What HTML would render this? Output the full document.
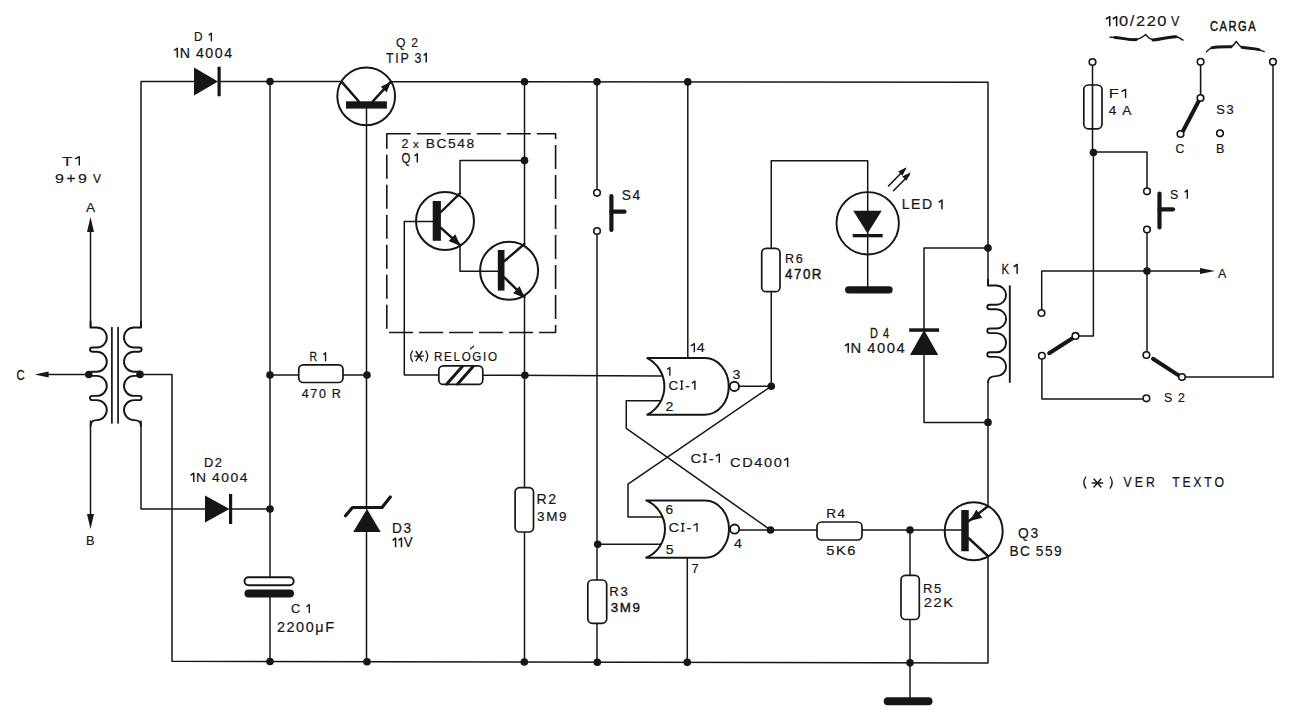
<!DOCTYPE html><html><head><meta charset="utf-8"><style>html,body{margin:0;padding:0;background:#fff;overflow:hidden}svg{display:block}</style></head><body><svg width="1299" height="720" viewBox="0 0 1299 720">
<rect width="1299" height="720" fill="#fff"/>
<g stroke="#161616" fill="none" stroke-linecap="round" stroke-linejoin="round">
<polyline points="141,327 141,81.4 194,81.45" fill="none" stroke-width="1.5"/>
<line x1="219" y1="81.47" x2="341.5" y2="81.59" stroke-width="1.5"/>
<polyline points="390.7,81.64 988,82.2 988,285.7" fill="none" stroke-width="1.5"/>
<line x1="988" y1="382" x2="988" y2="506" stroke-width="1.5"/>
<polyline points="988,556 988,663.0 172,661.3 172,374.4 140,374.4" fill="none" stroke-width="1.5"/>
<polyline points="141,421 141,509 205,509" fill="none" stroke-width="1.5"/>
<line x1="230" y1="509" x2="270" y2="509" stroke-width="1.5"/>
<line x1="270" y1="81.52" x2="270" y2="577" stroke-width="1.5"/>
<line x1="270" y1="597" x2="270" y2="661.51" stroke-width="1.5"/>
<line x1="270" y1="375" x2="298.75" y2="375" stroke-width="1.5"/>
<line x1="343" y1="375" x2="367" y2="375" stroke-width="1.5"/>
<line x1="366.5" y1="108.6" x2="366.5" y2="509" stroke-width="1.5"/>
<line x1="366.5" y1="532" x2="366.5" y2="661.71" stroke-width="1.5"/>
<line x1="524.5" y1="81.76" x2="524.5" y2="244" stroke-width="1.5"/>
<line x1="524.5" y1="297" x2="524.5" y2="487.6" stroke-width="1.5"/>
<line x1="524.5" y1="532" x2="524.5" y2="662.03" stroke-width="1.5"/>
<polyline points="524.5,160.4 460,160.4 460,193.4" fill="none" stroke-width="1.5"/>
<polyline points="460,245 460,271.3 497.8,271.3" fill="none" stroke-width="1.5"/>
<polyline points="432.7,221.5 404.3,221.5 404.3,375 438.8,375" fill="none" stroke-width="1.5"/>
<line x1="482.8" y1="375.2" x2="662" y2="375.9" stroke-width="1.5"/>
<line x1="597" y1="81.83" x2="597" y2="189.5" stroke-width="1.5"/>
<line x1="597" y1="234.5" x2="597" y2="580" stroke-width="1.5"/>
<line x1="597" y1="623.3" x2="597" y2="662.19" stroke-width="1.5"/>
<line x1="597.7" y1="544.2" x2="662" y2="544.2" stroke-width="1.5"/>
<line x1="687.8" y1="81.92" x2="687.8" y2="358" stroke-width="1.5"/>
<line x1="687.3" y1="557.7" x2="687.3" y2="662.37" stroke-width="1.5"/>
<polyline points="661.25,400.8 626.25,400.8 626.25,428.3 770.5,530" fill="none" stroke-width="1.5"/>
<polyline points="662,517 628,517 628,484.2 771.25,386.25" fill="none" stroke-width="1.5"/>
<line x1="739.4" y1="386.25" x2="771.25" y2="386.25" stroke-width="1.5"/>
<line x1="739.8" y1="530" x2="817" y2="530" stroke-width="1.5"/>
<line x1="862" y1="530" x2="961.25" y2="530" stroke-width="1.5"/>
<polyline points="771.25,386.25 771.25,291.7" fill="none" stroke-width="1.5"/>
<polyline points="771.25,248.3 771.25,160.7 867.7,160.7 867.7,290" fill="none" stroke-width="1.5"/>
<polyline points="988,248 924,248 924,422.4 988,422.4" fill="none" stroke-width="1.5"/>
<line x1="910" y1="530" x2="910" y2="575" stroke-width="1.5"/>
<line x1="910" y1="619.5" x2="910" y2="701" stroke-width="1.5"/>
<line x1="90.5" y1="224" x2="90.5" y2="327.5" stroke-width="1.5"/>
<polygon points="90.5,217 94.0,232.0 87.0,232.0" fill="#161616" stroke="none"/>
<line x1="90.5" y1="421" x2="90.5" y2="520" stroke-width="1.5"/>
<polygon points="90.5,529 87.0,514.0 94.0,514.0" fill="#161616" stroke="none"/>
<line x1="45" y1="374.5" x2="88.8" y2="374.5" stroke-width="1.5"/>
<polygon points="34.6,374.5 48.6,371.5 48.6,377.5" fill="#161616" stroke="none"/>
<path d="M90.6,321.5 L90.6,327.5 Q90.6,327.5 96.8,327.5 A10.0,10.0 0 0 1 96.8,347.5 L92.1,347.5 A2.0999999999999996,2.0999999999999996 0 0 0 92.1,351.7 L96.8,351.7 A10.0,10.0 0 0 1 96.8,371.7 L92.1,371.7 A2.0999999999999996,2.0999999999999996 0 0 0 92.1,375.9 L96.8,375.9 A10.0,10.0 0 0 1 96.8,395.9 L92.1,395.9 A2.0999999999999996,2.0999999999999996 0 0 0 92.1,400.09999999999997 L96.8,400.09999999999997 A10.0,10.0 0 0 1 96.8,420.1 Q90.6,420.1 90.6,426.1" fill="none" stroke-width="1.9"/>
<path d="M141.0,321.5 L141.0,327.5 Q141.0,327.5 134.0,327.5 A10.0,10.0 0 0 0 134.0,347.5 L139.5,347.5 A2.0999999999999996,2.0999999999999996 0 0 1 139.5,351.7 L134.0,351.7 A10.0,10.0 0 0 0 134.0,371.7 L139.5,371.7 A2.0999999999999996,2.0999999999999996 0 0 1 139.5,375.9 L134.0,375.9 A10.0,10.0 0 0 0 134.0,395.9 L139.5,395.9 A2.0999999999999996,2.0999999999999996 0 0 1 139.5,400.09999999999997 L134.0,400.09999999999997 A10.0,10.0 0 0 0 134.0,420.1 Q141.0,420.1 141.0,426.1" fill="none" stroke-width="1.9"/>
<line x1="111.9" y1="327.5" x2="111.9" y2="423" stroke-width="1.7"/>
<line x1="118.1" y1="327.5" x2="118.1" y2="423" stroke-width="1.7"/>
<path d="M988.1,279.5 L988.1,285.5 Q988.1,285.5 996.5,285.5 A9.6,9.6 0 0 1 996.5,304.70000000000005 L989.6,304.70000000000005 A2.3000000000000007,2.3000000000000007 0 0 0 989.6,309.30000000000007 L996.5,309.30000000000007 A9.6,9.6 0 0 1 996.5,328.50000000000006 L989.6,328.50000000000006 A2.3000000000000007,2.3000000000000007 0 0 0 989.6,333.1000000000001 L996.5,333.1000000000001 A9.6,9.6 0 0 1 996.5,352.30000000000007 L989.6,352.30000000000007 A2.3000000000000007,2.3000000000000007 0 0 0 989.6,356.9000000000001 L996.5,356.9000000000001 A9.6,9.6 0 0 1 996.5,376.1 Q988.1,376.1 988.1,382.1" fill="none" stroke-width="1.9"/>
<line x1="1009.8" y1="286.3" x2="1009.8" y2="382" stroke-width="1.9"/>
<polygon points="194,67.5 194,95.5 218,81.5" fill="#161616" stroke="none"/>
<rect x="217.5" y="66.75" width="3.2" height="29.5" fill="#161616" stroke="none"/>
<polygon points="205,495.5 205,522.5 229.5,509" fill="#161616" stroke="none"/>
<rect x="229.0" y="494.0" width="3.2" height="30" fill="#161616" stroke="none"/>
<polygon points="910,355 938.2,355 924.1,330" fill="#161616" stroke="none"/>
<rect x="909.2" y="328.3" width="29.9" height="3.5" fill="#161616" stroke="none"/>
<polygon points="353.2,532 380.7,532 367,509" fill="#161616" stroke="none"/>
<polyline points="345.5,515.8 352.5,507.5 382,507.5 390.3,497" fill="none" stroke-width="3.2"/>
<circle cx="867.7" cy="223.3" r="31.2" stroke-width="1.9"/>
<polygon points="853.3,210.7 881.7,210.7 867.5,233.5" fill="#161616" stroke="none"/>
<rect x="852.7" y="234" width="30" height="3.3" fill="#161616" stroke="none"/>
<line x1="888.5" y1="186" x2="905" y2="169" stroke-width="1.6"/>
<polygon points="906.7,167.3 902.4573593128807,175.78528137423856 898.2147186257614,171.5426406871193" fill="#161616" stroke="none"/>
<line x1="893.5" y1="190.7" x2="909" y2="175" stroke-width="1.6"/>
<polygon points="910.7,172.3 906.4573593128807,180.78528137423856 902.2147186257614,176.5426406871193" fill="#161616" stroke="none"/>
<rect x="845" y="286.2" width="47.7" height="7.2" rx="3.6" fill="#161616" stroke="none"/>
<rect x="883.7" y="697.2" width="48.8" height="8" rx="4" fill="#161616" stroke="none"/>
<rect x="244.5" y="577.3" width="49.19999999999999" height="8.0" rx="4" fill="#fff" stroke-width="1.9"/>
<rect x="244.5" y="589.5" width="49.5" height="8" rx="4" fill="#161616" stroke="none"/>
<rect x="298.75" y="364.8" width="44.25" height="17.69999999999999" rx="4.5" fill="#fff" stroke-width="1.7"/>
<rect x="438.8" y="365.9" width="44.0" height="18.5" rx="4.5" fill="#fff" stroke-width="1.7"/>
<line x1="446.8" y1="384.0" x2="462.3" y2="366.4" stroke-width="3.0"/>
<line x1="457.6" y1="384.0" x2="473.1" y2="366.4" stroke-width="3.0"/>
<rect x="817" y="522" width="45" height="18" rx="4.5" fill="#fff" stroke-width="1.7"/>
<rect x="515.1" y="487.6" width="18.399999999999977" height="44.39999999999998" rx="4.5" fill="#fff" stroke-width="1.7"/>
<rect x="587.8" y="580" width="18.90000000000009" height="43.299999999999955" rx="4.5" fill="#fff" stroke-width="1.7"/>
<rect x="901" y="575.3" width="18.299999999999955" height="44.200000000000045" rx="4.5" fill="#fff" stroke-width="1.7"/>
<rect x="761.7" y="248.3" width="18.299999999999955" height="43.39999999999998" rx="4.5" fill="#fff" stroke-width="1.7"/>
<line x1="1092.5" y1="65.5" x2="1092.5" y2="152" stroke-width="1.5"/>
<circle cx="1092.5" cy="62" r="3.3" fill="#fff" stroke-width="1.6"/>
<rect x="1083.8" y="85" width="18.200000000000045" height="43.80000000000001" rx="4.5" fill="#fff" stroke-width="1.7"/>
<line x1="1092.5" y1="85" x2="1092.5" y2="128.8" stroke-width="1.6"/>
<circle cx="445" cy="221" r="29" stroke-width="2"/>
<rect x="432.7" y="201" width="8.199999999999989" height="39.80000000000001" fill="#161616" stroke="none"/>
<line x1="440.9" y1="212" x2="460" y2="193.4" stroke-width="2.4"/>
<line x1="440.9" y1="227.8" x2="460" y2="245" stroke-width="2.4"/>
<polygon points="460.5,246 448.6290031102062,240.93621358640533 455.3108815990722,234.183251283828" fill="#161616" stroke="none"/>
<circle cx="509.1" cy="270.7" r="29" stroke-width="2"/>
<rect x="497.8" y="250" width="6.699999999999989" height="40.60000000000002" fill="#161616" stroke="none"/>
<line x1="504.5" y1="261" x2="524.4" y2="244" stroke-width="2.4"/>
<line x1="504.5" y1="277.6" x2="524.4" y2="297" stroke-width="2.4"/>
<polygon points="525,298 513.0284468527723,293.17875376659714 519.5715667409618,286.29125914745026" fill="#161616" stroke="none"/>
<circle cx="973.7" cy="531.2" r="29" stroke-width="2"/>
<rect x="961.25" y="510" width="7.5" height="41.25" fill="#161616" stroke="none"/>
<line x1="968.75" y1="521" x2="988" y2="506.2" stroke-width="2.4"/>
<line x1="968.75" y1="538.25" x2="988" y2="556.2" stroke-width="2.4"/>
<polygon points="969.8,521 976.3060483557899,509.7451639375723 982.3727815492919,517.694676398023" fill="#161616" stroke="none"/>
<circle cx="366.2" cy="96.3" r="28.9" stroke-width="2"/>
<rect x="346" y="101.3" width="40.9" height="7.3" fill="#161616" stroke="none"/>
<line x1="341.7" y1="81.9" x2="358.7" y2="101.3" stroke-width="2.5"/>
<line x1="372.8" y1="101.3" x2="390.7" y2="81.9" stroke-width="2.5"/>
<polygon points="391.2,81.4 386.6504774718163,92.18433330185734 380.78597667136694,86.74304389937852" fill="#161616" stroke="none"/>
<rect x="386.8" y="133.8" width="168.8" height="198.7" stroke-width="1.6" stroke-dasharray="24,6" stroke-linecap="butt"/>
<path d="M647.3,358.1 L705,358.1 A23.75,28.32499999999999 0 0 1 705,414.75 L647.3,414.75 A32.01,32.01 0 0 0 647.3,358.1 Z" fill="#fff" stroke-width="2.0"/>
<circle cx="734.4" cy="386.425" r="4.6" fill="#fff" stroke-width="1.9"/>
<path d="M646.2,500.4 L705,500.4 A24.0,28.650000000000034 0 0 1 705,557.7 L646.2,557.7 A31.23,31.23 0 0 0 646.2,500.4 Z" fill="#fff" stroke-width="2.0"/>
<circle cx="734.6" cy="529.05" r="4.6" fill="#fff" stroke-width="1.9"/>
<circle cx="597" cy="192.8" r="3.3" fill="#fff" stroke-width="1.6"/>
<circle cx="597" cy="231" r="3.3" fill="#fff" stroke-width="1.6"/>
<line x1="611.4" y1="196" x2="611.4" y2="230" stroke-width="4.2"/>
<line x1="611.4" y1="211.7" x2="624.5" y2="211.7" stroke-width="4.2"/>
<circle cx="1147" cy="191.3" r="3.3" fill="#fff" stroke-width="1.6"/>
<circle cx="1147" cy="229.5" r="3.3" fill="#fff" stroke-width="1.6"/>
<line x1="1159.5" y1="193.5" x2="1159.5" y2="227.5" stroke-width="4.2"/>
<line x1="1159.5" y1="209.3" x2="1173" y2="209.3" stroke-width="4.2"/>
<line x1="1200.6" y1="65" x2="1200.6" y2="95" stroke-width="1.6"/>
<line x1="1198.5" y1="101.5" x2="1183" y2="131" stroke-width="4.0"/>
<circle cx="1200.6" cy="61.8" r="3.3" fill="#fff" stroke-width="1.6"/>
<circle cx="1200.5" cy="98" r="3.3" fill="#fff" stroke-width="1.6"/>
<circle cx="1180.5" cy="134" r="3.3" fill="#fff" stroke-width="1.6"/>
<circle cx="1220" cy="133.3" r="3.3" fill="#fff" stroke-width="1.6"/>
<line x1="1273" y1="65" x2="1273" y2="377" stroke-width="1.5"/>
<polyline points="1185.3,377.1 1273,377.1" fill="none" stroke-width="1.5"/>
<circle cx="1273" cy="61.8" r="3.3" fill="#fff" stroke-width="1.6"/>
<polyline points="1092.5,152 1147,152 1147,188" fill="none" stroke-width="1.5"/>
<line x1="1147" y1="232.8" x2="1147" y2="351.5" stroke-width="1.5"/>
<polyline points="1041.7,310 1041.7,271.1 1200,271.1" fill="none" stroke-width="1.5"/>
<polygon points="1215,271.1 1200.0,274.1 1200.0,268.1" fill="#161616" stroke="none"/>
<polyline points="1093.4,152 1093.4,335.9 1078.8,335.9" fill="none" stroke-width="1.5"/>
<line x1="1049.1" y1="353.2" x2="1072.5" y2="338.2" stroke-width="4.0"/>
<polyline points="1041.9,359 1041.9,399 1143,399" fill="none" stroke-width="1.5"/>
<line x1="1153" y1="358.8" x2="1179" y2="375.6" stroke-width="4.0"/>
<circle cx="1041.5" cy="313" r="3.3" fill="#fff" stroke-width="1.6"/>
<circle cx="1075.5" cy="335.9" r="3.3" fill="#fff" stroke-width="1.6"/>
<circle cx="1041.9" cy="355.75" r="3.3" fill="#fff" stroke-width="1.6"/>
<circle cx="1146.4" cy="355" r="3.3" fill="#fff" stroke-width="1.6"/>
<circle cx="1182" cy="377.1" r="3.3" fill="#fff" stroke-width="1.6"/>
<circle cx="1146.4" cy="398.3" r="3.3" fill="#fff" stroke-width="1.6"/>
<circle cx="1093.4" cy="152.5" r="3.8" fill="#161616" stroke="none"/>
<circle cx="1147" cy="271.1" r="3.8" fill="#161616" stroke="none"/>
<path d="M1110.2,37.2 C1120,37 1126,40.5 1134,39.8 C1140,39.2 1143,37 1145.6,34.5 C1148,37.5 1150,40 1157,39.8 C1165,39.5 1168,36.4 1174,36.5 C1178,36.6 1181,38.5 1183,40.1" fill="none" stroke-width="1.4"/>
<path d="M1115,37.4 C1121,37.6 1127,40 1136,39.6" fill="none" stroke-width="3.0"/>
<path d="M1153,39.9 C1162,39.6 1167,36.6 1176,36.7" fill="none" stroke-width="3.0"/>
<path d="M1206.5,51.9 C1209,48.5 1212,47 1218,46.8 C1225,46.6 1229,47.5 1231,46.8 C1233.5,45.8 1235,43.5 1236.4,41.4 C1238,44 1239.5,46.8 1243,47.5 C1250,48.5 1256,48 1264.1,51.6" fill="none" stroke-width="1.4"/>
<path d="M1212,47.8 C1218,46.6 1226,46.9 1231,46.8" fill="none" stroke-width="3.0"/>
<path d="M1242,47.3 C1248,48.4 1253,48.1 1259,49.6" fill="none" stroke-width="3.0"/>
<circle cx="270" cy="81.52" r="3.8" fill="#161616" stroke="none"/>
<circle cx="524.5" cy="81.76" r="3.8" fill="#161616" stroke="none"/>
<circle cx="597" cy="81.83" r="3.8" fill="#161616" stroke="none"/>
<circle cx="687.8" cy="81.92" r="3.8" fill="#161616" stroke="none"/>
<circle cx="524.5" cy="160.4" r="3.8" fill="#161616" stroke="none"/>
<circle cx="270" cy="375" r="3.8" fill="#161616" stroke="none"/>
<circle cx="367" cy="375" r="3.8" fill="#161616" stroke="none"/>
<circle cx="524.9" cy="375.2" r="3.8" fill="#161616" stroke="none"/>
<circle cx="270" cy="509" r="3.8" fill="#161616" stroke="none"/>
<circle cx="88.8" cy="374.5" r="3.8" fill="#161616" stroke="none"/>
<circle cx="140" cy="374.4" r="3.8" fill="#161616" stroke="none"/>
<circle cx="270" cy="661.51" r="3.8" fill="#161616" stroke="none"/>
<circle cx="367" cy="661.71" r="3.8" fill="#161616" stroke="none"/>
<circle cx="524.3" cy="662.03" r="3.8" fill="#161616" stroke="none"/>
<circle cx="597.3" cy="662.19" r="3.8" fill="#161616" stroke="none"/>
<circle cx="687.3" cy="662.37" r="3.8" fill="#161616" stroke="none"/>
<circle cx="597.7" cy="544.2" r="3.8" fill="#161616" stroke="none"/>
<circle cx="771.25" cy="386.25" r="3.8" fill="#161616" stroke="none"/>
<circle cx="770.5" cy="530" r="3.8" fill="#161616" stroke="none"/>
<circle cx="910" cy="530" r="3.8" fill="#161616" stroke="none"/>
<circle cx="910" cy="662.84" r="3.8" fill="#161616" stroke="none"/>
<circle cx="988" cy="248" r="3.8" fill="#161616" stroke="none"/>
<circle cx="988" cy="422.4" r="3.8" fill="#161616" stroke="none"/>
</g>
<g stroke="#161616" fill="none" stroke-linecap="round">
<path d="M412.4,351 Q409.0,356.25 412.4,361.5" fill="none" stroke-width="1.3"/>
<line x1="414.6" y1="356.1" x2="423.5" y2="356.1" stroke-width="1.4"/>
<line x1="416.113" y1="351.5" x2="421.987" y2="360.7" stroke-width="1.4"/>
<line x1="421.987" y1="351.5" x2="416.113" y2="360.7" stroke-width="1.4"/>
<path d="M425.9,351 Q429.40000000000003,356.25 425.9,361.5" fill="none" stroke-width="1.3"/>
<line x1="470.6" y1="348.8" x2="473.6" y2="346.3" stroke-width="1.3"/>
<path d="M1085.8,477 Q1081.9,482.6 1085.8,488.2" fill="none" stroke-width="1.3"/>
<line x1="1092.2" y1="483.0" x2="1102.7" y2="483.0" stroke-width="1.4"/>
<line x1="1093.9850000000001" y1="479" x2="1100.915" y2="487" stroke-width="1.4"/>
<line x1="1100.915" y1="479" x2="1093.9850000000001" y2="487" stroke-width="1.4"/>
<path d="M1110.2,477 Q1114.1,482.6 1110.2,488.2" fill="none" stroke-width="1.3"/>
</g>
<g font-family="Liberation Sans, sans-serif" fill="#161616" stroke="none" xml:space="preserve">
<text transform="translate(194.00,41.25) scale(0.944,1)" font-size="12.50" stroke="#161616" stroke-width="0.212">D</text>
<path d="M208.72,35.12 L211.34,33.16 L211.34,41.25" fill="none" stroke="#161616" stroke-width="1.31" stroke-linejoin="round"/>
<path d="M174.10,50.50 L177.32,48.25 L177.32,57.50" fill="none" stroke="#161616" stroke-width="1.50" stroke-linejoin="round"/>
<text transform="translate(179.67,57.50) scale(0.993,1)" font-size="14.29" stroke="#161616" stroke-width="0.201">N</text>
<text transform="translate(195.90,57.50) scale(0.993,1)" font-size="14.29" stroke="#161616" stroke-width="0.201">4</text>
<text transform="translate(205.33,57.50) scale(0.993,1)" font-size="14.29" stroke="#161616" stroke-width="0.201">0</text>
<text transform="translate(214.75,57.50) scale(0.993,1)" font-size="14.29" stroke="#161616" stroke-width="0.201">0</text>
<text transform="translate(224.18,57.50) scale(0.993,1)" font-size="14.29" stroke="#161616" stroke-width="0.201">4</text>
<text transform="translate(62.00,165.50) scale(1.250,1)" font-size="13.57" stroke="#161616" stroke-width="0.160">T</text>
<path d="M75.11,158.85 L79.29,156.71 L79.29,165.50" fill="none" stroke="#161616" stroke-width="1.43" stroke-linejoin="round"/>
<text transform="translate(55.00,183.00) scale(1.250,1)" font-size="12.86" stroke="#161616" stroke-width="0.160">9</text>
<path d="M67.14,178.50 H74.86 M71.00,174.64 V182.36" fill="none" stroke="#161616" stroke-width="1.29"/>
<text transform="translate(78.09,183.00) scale(1.250,1)" font-size="12.86" stroke="#161616" stroke-width="0.160">9</text>
<text transform="translate(93.00,183.00) scale(0.941,1)" font-size="12.86" stroke="#161616" stroke-width="0.213">V</text>
<text transform="translate(86.00,212.00) scale(1.059,1)" font-size="12.86" stroke="#161616" stroke-width="0.189">A</text>
<text transform="translate(16.60,379.60) scale(0.800,1)" font-size="14.29" stroke="#161616" stroke-width="0.250">C</text>
<text transform="translate(86.00,544.50) scale(0.944,1)" font-size="13.57" stroke="#161616" stroke-width="0.212">B</text>
<text transform="translate(204.00,467.00) scale(0.951,1)" font-size="13.57" stroke="#161616" stroke-width="0.210">D</text>
<text transform="translate(214.87,467.00) scale(0.951,1)" font-size="13.57" stroke="#161616" stroke-width="0.210">2</text>
<path d="M190.57,475.35 L193.76,473.21 L193.76,482.00" fill="none" stroke="#161616" stroke-width="1.43" stroke-linejoin="round"/>
<text transform="translate(196.06,482.00) scale(1.024,1)" font-size="13.57" stroke="#161616" stroke-width="0.195">N</text>
<text transform="translate(212.01,482.00) scale(1.024,1)" font-size="13.57" stroke="#161616" stroke-width="0.195">4</text>
<text transform="translate(221.28,482.00) scale(1.024,1)" font-size="13.57" stroke="#161616" stroke-width="0.195">0</text>
<text transform="translate(230.55,482.00) scale(1.024,1)" font-size="13.57" stroke="#161616" stroke-width="0.195">0</text>
<text transform="translate(239.82,482.00) scale(1.024,1)" font-size="13.57" stroke="#161616" stroke-width="0.195">4</text>
<text transform="translate(291.00,613.00) scale(0.988,1)" font-size="12.86" stroke="#161616" stroke-width="0.202">C</text>
<path d="M306.45,606.70 L309.32,604.67 L309.32,613.00" fill="none" stroke="#161616" stroke-width="1.35" stroke-linejoin="round"/>
<text transform="translate(276.90,631.50) scale(1.031,1)" font-size="14.00" stroke="#161616" stroke-width="0.194">2</text>
<text transform="translate(286.49,631.50) scale(1.031,1)" font-size="14.00" stroke="#161616" stroke-width="0.194">2</text>
<text transform="translate(296.08,631.50) scale(1.031,1)" font-size="14.00" stroke="#161616" stroke-width="0.194">0</text>
<text transform="translate(305.67,631.50) scale(1.031,1)" font-size="14.00" stroke="#161616" stroke-width="0.194">0</text>
<text transform="translate(315.26,631.50) scale(1.031,1)" font-size="14.00" stroke="#161616" stroke-width="0.194">μ</text>
<text transform="translate(325.24,631.50) scale(1.031,1)" font-size="14.00" stroke="#161616" stroke-width="0.194">F</text>
<text transform="translate(396.00,47.00) scale(0.894,1)" font-size="13.57" stroke="#161616" stroke-width="0.224">Q</text>
<text transform="translate(411.30,47.00) scale(0.894,1)" font-size="13.57" stroke="#161616" stroke-width="0.224">2</text>
<text transform="translate(386.00,62.50) scale(0.868,1)" font-size="14.29" stroke="#161616" stroke-width="0.230">T</text>
<text transform="translate(395.27,62.50) scale(0.868,1)" font-size="14.29" stroke="#161616" stroke-width="0.230">I</text>
<text transform="translate(400.42,62.50) scale(0.868,1)" font-size="14.29" stroke="#161616" stroke-width="0.230">P</text>
<text transform="translate(414.50,62.50) scale(0.868,1)" font-size="14.29" stroke="#161616" stroke-width="0.230">3</text>
<path d="M423.61,55.50 L426.25,53.25 L426.25,62.50" fill="none" stroke="#161616" stroke-width="1.50" stroke-linejoin="round"/>
<text transform="translate(401.50,148.00) scale(0.968,1)" font-size="12.86" stroke="#161616" stroke-width="0.207">2</text>
<text transform="translate(413.00,148.00) scale(1.105,1)" font-size="10.50" stroke="#161616" stroke-width="0.181">x</text>
<text transform="translate(425.70,148.00) scale(1.076,1)" font-size="12.86" stroke="#161616" stroke-width="0.186">B</text>
<text transform="translate(436.45,148.00) scale(1.076,1)" font-size="12.86" stroke="#161616" stroke-width="0.186">C</text>
<text transform="translate(448.00,148.00) scale(1.076,1)" font-size="12.86" stroke="#161616" stroke-width="0.186">5</text>
<text transform="translate(457.27,148.00) scale(1.076,1)" font-size="12.86" stroke="#161616" stroke-width="0.186">4</text>
<text transform="translate(466.53,148.00) scale(1.076,1)" font-size="12.86" stroke="#161616" stroke-width="0.186">8</text>
<text transform="translate(401.50,163.00) scale(0.800,1)" font-size="14.29" stroke="#161616" stroke-width="0.250">Q</text>
<path d="M414.57,155.85 L417.29,153.71 L417.29,162.50" fill="none" stroke="#161616" stroke-width="1.43" stroke-linejoin="round"/>
<text transform="translate(309.60,361.25) scale(0.798,1)" font-size="13.07" stroke="#161616" stroke-width="0.251">R</text>
<path d="M323.44,354.85 L325.56,352.79 L325.56,361.25" fill="none" stroke="#161616" stroke-width="1.37" stroke-linejoin="round"/>
<text transform="translate(301.70,398.30) scale(0.967,1)" font-size="13.00" stroke="#161616" stroke-width="0.207">4</text>
<text transform="translate(310.33,398.30) scale(0.967,1)" font-size="13.00" stroke="#161616" stroke-width="0.207">7</text>
<text transform="translate(318.97,398.30) scale(0.967,1)" font-size="13.00" stroke="#161616" stroke-width="0.207">0</text>
<text transform="translate(331.73,398.30) scale(0.967,1)" font-size="13.00" stroke="#161616" stroke-width="0.207">R</text>
<text transform="translate(434.00,361.00) scale(0.870,1)" font-size="13.43" stroke="#161616" stroke-width="0.230">R</text>
<text transform="translate(444.08,361.00) scale(0.870,1)" font-size="13.43" stroke="#161616" stroke-width="0.230">E</text>
<text transform="translate(453.51,361.00) scale(0.870,1)" font-size="13.43" stroke="#161616" stroke-width="0.230">L</text>
<text transform="translate(461.64,361.00) scale(0.870,1)" font-size="13.43" stroke="#161616" stroke-width="0.230">O</text>
<text transform="translate(472.37,361.00) scale(0.870,1)" font-size="13.43" stroke="#161616" stroke-width="0.230">G</text>
<text transform="translate(483.10,361.00) scale(0.870,1)" font-size="13.43" stroke="#161616" stroke-width="0.230">I</text>
<text transform="translate(487.97,361.00) scale(0.870,1)" font-size="13.43" stroke="#161616" stroke-width="0.230">O</text>
<text transform="translate(392.00,532.50) scale(0.932,1)" font-size="14.71" stroke="#161616" stroke-width="0.214">D</text>
<text transform="translate(403.51,532.50) scale(0.932,1)" font-size="14.71" stroke="#161616" stroke-width="0.214">3</text>
<path d="M392.59,540.34 L395.58,538.13 L395.58,547.20" fill="none" stroke="#161616" stroke-width="1.47" stroke-linejoin="round"/>
<path d="M398.50,540.34 L401.49,538.13 L401.49,547.20" fill="none" stroke="#161616" stroke-width="1.47" stroke-linejoin="round"/>
<text transform="translate(403.83,547.20) scale(0.957,1)" font-size="14.00" stroke="#161616" stroke-width="0.209">V</text>
<text transform="translate(536.50,504.40) scale(1.023,1)" font-size="13.86" stroke="#161616" stroke-width="0.196">R</text>
<text transform="translate(548.20,504.40) scale(1.023,1)" font-size="13.86" stroke="#161616" stroke-width="0.196">2</text>
<text transform="translate(537.00,520.80) scale(1.025,1)" font-size="13.14" stroke="#161616" stroke-width="0.195">3</text>
<text transform="translate(546.16,520.80) scale(1.025,1)" font-size="13.14" stroke="#161616" stroke-width="0.195">M</text>
<text transform="translate(559.04,520.80) scale(1.025,1)" font-size="13.14" stroke="#161616" stroke-width="0.195">9</text>
<text transform="translate(609.30,596.00) scale(1.032,1)" font-size="12.71" stroke="#161616" stroke-width="0.194">R</text>
<text transform="translate(620.45,596.00) scale(1.032,1)" font-size="12.71" stroke="#161616" stroke-width="0.194">3</text>
<text transform="translate(610.70,611.60) scale(0.994,1)" font-size="13.43" stroke="#161616" stroke-width="0.402">3</text>
<text transform="translate(619.76,611.60) scale(0.994,1)" font-size="13.43" stroke="#161616" stroke-width="0.402">M</text>
<text transform="translate(632.54,611.60) scale(0.994,1)" font-size="13.43" stroke="#161616" stroke-width="0.402">9</text>
<text transform="translate(621.70,199.70) scale(0.997,1)" font-size="13.86" stroke="#161616" stroke-width="0.201">S</text>
<text transform="translate(632.40,199.70) scale(0.997,1)" font-size="13.86" stroke="#161616" stroke-width="0.201">4</text>
<text transform="translate(785.00,263.30) scale(0.939,1)" font-size="13.43" stroke="#161616" stroke-width="0.213">R</text>
<text transform="translate(795.76,263.30) scale(0.939,1)" font-size="13.43" stroke="#161616" stroke-width="0.213">6</text>
<text transform="translate(785.00,278.60) scale(0.933,1)" font-size="14.29" stroke="#161616" stroke-width="0.429">4</text>
<text transform="translate(793.95,278.60) scale(0.933,1)" font-size="14.29" stroke="#161616" stroke-width="0.429">7</text>
<text transform="translate(802.89,278.60) scale(0.933,1)" font-size="14.29" stroke="#161616" stroke-width="0.429">0</text>
<text transform="translate(811.84,278.60) scale(0.933,1)" font-size="14.29" stroke="#161616" stroke-width="0.429">R</text>
<text transform="translate(901.70,209.30) scale(0.985,1)" font-size="14.29" stroke="#161616" stroke-width="0.203">L</text>
<text transform="translate(911.07,209.30) scale(0.985,1)" font-size="14.29" stroke="#161616" stroke-width="0.203">E</text>
<text transform="translate(922.04,209.30) scale(0.985,1)" font-size="14.29" stroke="#161616" stroke-width="0.203">D</text>
<path d="M938.77,202.30 L941.95,200.05 L941.95,209.30" fill="none" stroke="#161616" stroke-width="1.50" stroke-linejoin="round"/>
<text transform="translate(1001.50,273.75) scale(0.800,1)" font-size="14.29" stroke="#161616" stroke-width="0.250">K</text>
<path d="M1013.70,266.75 L1017.15,264.50 L1017.15,273.75" fill="none" stroke="#161616" stroke-width="1.50" stroke-linejoin="round"/>
<text transform="translate(870.00,337.60) scale(0.750,1)" font-size="14.57" stroke="#161616" stroke-width="0.267">D</text>
<text transform="translate(883.11,337.60) scale(0.750,1)" font-size="14.57" stroke="#161616" stroke-width="0.267">4</text>
<path d="M844.79,345.94 L848.22,343.74 L848.22,352.80" fill="none" stroke="#161616" stroke-width="1.47" stroke-linejoin="round"/>
<text transform="translate(850.53,352.80) scale(1.054,1)" font-size="14.00" stroke="#161616" stroke-width="0.190">N</text>
<text transform="translate(867.30,352.80) scale(1.054,1)" font-size="14.00" stroke="#161616" stroke-width="0.190">4</text>
<text transform="translate(877.04,352.80) scale(1.054,1)" font-size="14.00" stroke="#161616" stroke-width="0.190">0</text>
<text transform="translate(886.79,352.80) scale(1.054,1)" font-size="14.00" stroke="#161616" stroke-width="0.190">0</text>
<text transform="translate(896.53,352.80) scale(1.054,1)" font-size="14.00" stroke="#161616" stroke-width="0.190">4</text>
<path d="M690.96,345.79 L694.33,343.70 L694.33,352.30" fill="none" stroke="#161616" stroke-width="1.40" stroke-linejoin="round"/>
<text transform="translate(696.63,352.30) scale(1.081,1)" font-size="13.29" stroke="#161616" stroke-width="0.185">4</text>
<path d="M667.03,369.57 L669.83,367.57 L669.83,375.80" fill="none" stroke="#161616" stroke-width="1.34" stroke-linejoin="round"/>
<text transform="translate(668.50,389.80) scale(0.990,1)" font-size="13.43" stroke="#161616" stroke-width="0.202">C</text>
<path d="M680.16,381.07 H683.26 M680.16,389.13 H683.26 M681.71,381.07 V389.13" fill="none" stroke="#161616" stroke-width="1.34"/>
<text transform="translate(685.26,389.80) scale(0.990,1)" font-size="13.43" stroke="#161616" stroke-width="0.202">-</text>
<path d="M691.88,383.22 L694.89,381.10 L694.89,389.80" fill="none" stroke="#161616" stroke-width="1.41" stroke-linejoin="round"/>
<text transform="translate(665.40,411.25) scale(1.109,1)" font-size="12.79" stroke="#161616" stroke-width="0.180">2</text>
<text transform="translate(732.50,378.75) scale(1.129,1)" font-size="12.50" stroke="#161616" stroke-width="0.177">3</text>
<text transform="translate(690.40,462.70) scale(1.101,1)" font-size="13.43" stroke="#161616" stroke-width="0.182">C</text>
<path d="M703.14,453.97 H706.68 M703.14,462.03 H706.68 M704.91,453.97 V462.03" fill="none" stroke="#161616" stroke-width="1.34"/>
<text transform="translate(708.68,462.70) scale(1.101,1)" font-size="13.43" stroke="#161616" stroke-width="0.182">-</text>
<path d="M715.80,456.12 L719.29,454.00 L719.29,462.70" fill="none" stroke="#161616" stroke-width="1.41" stroke-linejoin="round"/>
<text transform="translate(730.00,466.90) scale(1.086,1)" font-size="13.43" stroke="#161616" stroke-width="0.184">C</text>
<text transform="translate(742.19,466.90) scale(1.086,1)" font-size="13.43" stroke="#161616" stroke-width="0.184">D</text>
<text transform="translate(754.37,466.90) scale(1.086,1)" font-size="13.43" stroke="#161616" stroke-width="0.184">4</text>
<text transform="translate(764.12,466.90) scale(1.086,1)" font-size="13.43" stroke="#161616" stroke-width="0.184">0</text>
<text transform="translate(773.86,466.90) scale(1.086,1)" font-size="13.43" stroke="#161616" stroke-width="0.184">0</text>
<path d="M784.17,460.32 L787.59,458.20 L787.59,466.90" fill="none" stroke="#161616" stroke-width="1.41" stroke-linejoin="round"/>
<text transform="translate(665.40,514.00) scale(1.147,1)" font-size="12.00" stroke="#161616" stroke-width="0.174">6</text>
<text transform="translate(668.50,531.70) scale(1.169,1)" font-size="12.57" stroke="#161616" stroke-width="0.171">C</text>
<path d="M681.00,523.53 H684.57 M681.00,531.07 H684.57 M682.78,523.53 V531.07" fill="none" stroke="#161616" stroke-width="1.26"/>
<text transform="translate(686.54,531.70) scale(1.169,1)" font-size="12.57" stroke="#161616" stroke-width="0.171">-</text>
<path d="M693.50,525.54 L697.04,523.56 L697.04,531.70" fill="none" stroke="#161616" stroke-width="1.32" stroke-linejoin="round"/>
<text transform="translate(665.80,553.50) scale(1.185,1)" font-size="11.86" stroke="#161616" stroke-width="0.169">5</text>
<text transform="translate(734.00,548.30) scale(1.143,1)" font-size="12.43" stroke="#161616" stroke-width="0.175">4</text>
<text transform="translate(691.50,573.30) scale(1.036,1)" font-size="12.43" stroke="#161616" stroke-width="0.193">7</text>
<text transform="translate(826.25,517.50) scale(0.994,1)" font-size="13.57" stroke="#161616" stroke-width="0.201">R</text>
<text transform="translate(837.54,517.50) scale(0.994,1)" font-size="13.57" stroke="#161616" stroke-width="0.201">4</text>
<text transform="translate(826.25,554.50) scale(1.085,1)" font-size="13.57" stroke="#161616" stroke-width="0.184">5</text>
<text transform="translate(835.99,554.50) scale(1.085,1)" font-size="13.57" stroke="#161616" stroke-width="0.184">K</text>
<text transform="translate(847.36,554.50) scale(1.085,1)" font-size="13.57" stroke="#161616" stroke-width="0.184">6</text>
<text transform="translate(923.00,592.50) scale(1.041,1)" font-size="12.50" stroke="#161616" stroke-width="0.192">R</text>
<text transform="translate(933.97,592.50) scale(1.041,1)" font-size="12.50" stroke="#161616" stroke-width="0.192">5</text>
<text transform="translate(923.75,607.00) scale(1.145,1)" font-size="12.86" stroke="#161616" stroke-width="0.175">2</text>
<text transform="translate(933.51,607.00) scale(1.145,1)" font-size="12.86" stroke="#161616" stroke-width="0.175">2</text>
<text transform="translate(943.27,607.00) scale(1.145,1)" font-size="12.86" stroke="#161616" stroke-width="0.175">K</text>
<text transform="translate(1018.10,537.90) scale(0.996,1)" font-size="13.86" stroke="#161616" stroke-width="0.201">Q</text>
<text transform="translate(1030.41,537.90) scale(0.996,1)" font-size="13.86" stroke="#161616" stroke-width="0.201">3</text>
<text transform="translate(1009.40,556.10) scale(0.989,1)" font-size="13.86" stroke="#161616" stroke-width="0.202">B</text>
<text transform="translate(1020.03,556.10) scale(0.989,1)" font-size="13.86" stroke="#161616" stroke-width="0.202">C</text>
<text transform="translate(1035.76,556.10) scale(0.989,1)" font-size="13.86" stroke="#161616" stroke-width="0.202">5</text>
<text transform="translate(1044.91,556.10) scale(0.989,1)" font-size="13.86" stroke="#161616" stroke-width="0.202">5</text>
<text transform="translate(1054.06,556.10) scale(0.989,1)" font-size="13.86" stroke="#161616" stroke-width="0.202">9</text>
<path d="M1105.82,19.02 L1109.72,16.68 L1109.72,26.30" fill="none" stroke="#161616" stroke-width="1.56" stroke-linejoin="round"/>
<path d="M1112.72,19.02 L1116.61,16.68 L1116.61,26.30" fill="none" stroke="#161616" stroke-width="1.56" stroke-linejoin="round"/>
<text transform="translate(1118.99,26.30) scale(1.107,1)" font-size="14.86" stroke="#161616" stroke-width="0.181">0</text>
<text transform="translate(1129.73,26.30) scale(1.107,1)" font-size="14.86" stroke="#161616" stroke-width="0.181">/</text>
<text transform="translate(1135.90,26.30) scale(1.107,1)" font-size="14.86" stroke="#161616" stroke-width="0.181">2</text>
<text transform="translate(1146.63,26.30) scale(1.107,1)" font-size="14.86" stroke="#161616" stroke-width="0.181">2</text>
<text transform="translate(1157.37,26.30) scale(1.107,1)" font-size="14.86" stroke="#161616" stroke-width="0.181">0</text>
<text transform="translate(1171.00,26.30) scale(0.841,1)" font-size="14.86" stroke="#161616" stroke-width="0.238">V</text>
<text transform="translate(1210.00,30.60) scale(0.802,1)" font-size="13.86" stroke="#161616" stroke-width="0.499">C</text>
<text transform="translate(1219.52,30.60) scale(0.802,1)" font-size="13.86" stroke="#161616" stroke-width="0.499">A</text>
<text transform="translate(1228.54,30.60) scale(0.802,1)" font-size="13.86" stroke="#161616" stroke-width="0.499">R</text>
<text transform="translate(1238.06,30.60) scale(0.802,1)" font-size="13.86" stroke="#161616" stroke-width="0.499">G</text>
<text transform="translate(1248.28,30.60) scale(0.802,1)" font-size="13.86" stroke="#161616" stroke-width="0.499">A</text>
<text transform="translate(1108.75,98.00) scale(1.250,1)" font-size="13.21" stroke="#161616" stroke-width="0.160">F</text>
<path d="M1121.49,91.53 L1125.56,89.44 L1125.56,98.00" fill="none" stroke="#161616" stroke-width="1.39" stroke-linejoin="round"/>
<text transform="translate(1108.75,114.50) scale(1.005,1)" font-size="13.57" stroke="#161616" stroke-width="0.199">4</text>
<text transform="translate(1122.20,114.50) scale(1.005,1)" font-size="13.57" stroke="#161616" stroke-width="0.199">A</text>
<text transform="translate(1216.25,113.75) scale(0.978,1)" font-size="13.21" stroke="#161616" stroke-width="0.204">S</text>
<text transform="translate(1226.53,113.75) scale(0.978,1)" font-size="13.21" stroke="#161616" stroke-width="0.204">3</text>
<text transform="translate(1175.50,153.00) scale(1.014,1)" font-size="12.14" stroke="#161616" stroke-width="0.197">C</text>
<text transform="translate(1216.00,153.00) scale(1.046,1)" font-size="12.14" stroke="#161616" stroke-width="0.191">B</text>
<text transform="translate(1170.00,198.75) scale(0.921,1)" font-size="13.36" stroke="#161616" stroke-width="0.217">S</text>
<path d="M1184.60,192.21 L1187.30,190.10 L1187.30,198.75" fill="none" stroke="#161616" stroke-width="1.40" stroke-linejoin="round"/>
<text transform="translate(1218.00,277.50) scale(0.917,1)" font-size="13.57" stroke="#161616" stroke-width="0.218">A</text>
<text transform="translate(1164.10,402.00) scale(1.018,1)" font-size="12.14" stroke="#161616" stroke-width="0.196">S</text>
<text transform="translate(1178.00,402.00) scale(1.018,1)" font-size="12.14" stroke="#161616" stroke-width="0.196">2</text>
<text transform="translate(1123.60,487.40) scale(0.850,1)" font-size="14.43" stroke="#161616" stroke-width="0.235">V</text>
<text transform="translate(1134.84,487.40) scale(0.850,1)" font-size="14.43" stroke="#161616" stroke-width="0.235">E</text>
<text transform="translate(1146.07,487.40) scale(0.850,1)" font-size="14.43" stroke="#161616" stroke-width="0.235">R</text>
<text transform="translate(1172.30,487.40) scale(0.850,1)" font-size="14.43" stroke="#161616" stroke-width="0.235">T</text>
<text transform="translate(1182.52,487.40) scale(0.850,1)" font-size="14.43" stroke="#161616" stroke-width="0.235">E</text>
<text transform="translate(1193.37,487.40) scale(0.850,1)" font-size="14.43" stroke="#161616" stroke-width="0.235">X</text>
<text transform="translate(1204.22,487.40) scale(0.850,1)" font-size="14.43" stroke="#161616" stroke-width="0.235">T</text>
<text transform="translate(1214.44,487.40) scale(0.850,1)" font-size="14.43" stroke="#161616" stroke-width="0.235">O</text>
</g>
</svg></body></html>
